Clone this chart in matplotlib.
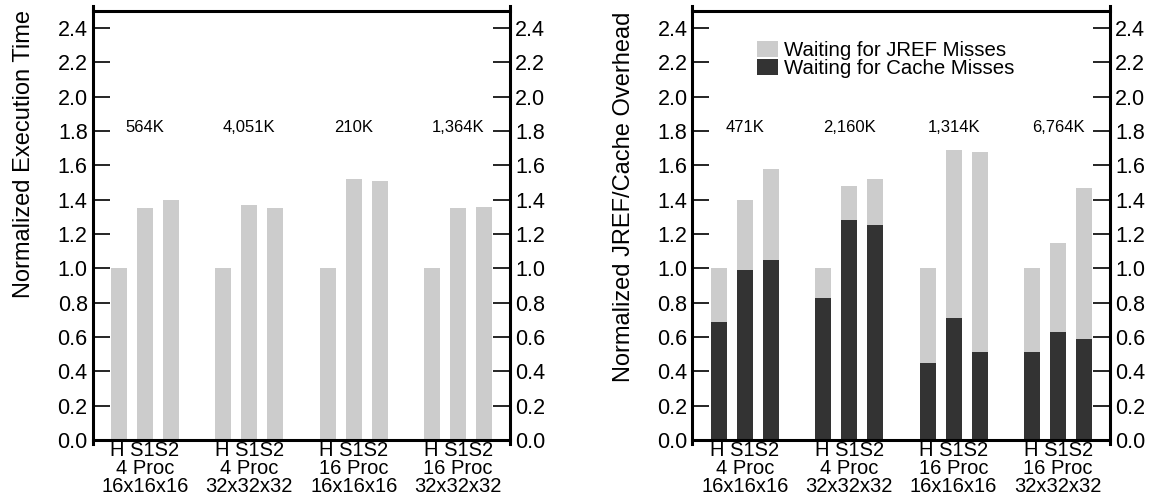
import numpy as np
import matplotlib
matplotlib.use('Agg')
import matplotlib.pyplot as plt

plt.rcParams['font.family'] = ['Liberation Sans', 'DejaVu Sans']

LIGHT = '#cccccc'
DARK = '#333333'

# categories
schemes = ['H', 'S1', 'S2']
configs = ['4 Proc\n16x16x16', '4 Proc\n32x32x32', '16 Proc\n16x16x16', '16 Proc\n32x32x32']

# left panel: normalized execution time (H = 1.0)
exec_h = [1.00, 1.00, 1.00, 1.00]
exec_s1 = [1.35, 1.37, 1.52, 1.35]
exec_s2 = [1.40, 1.35, 1.51, 1.36]
exec_counts = ['564K', '4,051K', '210K', '1,364K']

# right panel: normalized JREF/cache overhead, split in two parts
cache_h = [0.69, 0.83, 0.45, 0.51]
cache_s1 = [0.99, 1.28, 0.71, 0.63]
cache_s2 = [1.05, 1.25, 0.51, 0.59]
total_h = [1.00, 1.00, 1.00, 1.00]
total_s1 = [1.40, 1.48, 1.69, 1.15]
total_s2 = [1.58, 1.52, 1.68, 1.47]
overhead_counts = ['471K', '2,160K', '1,314K', '6,764K']

legend_labels = ['Waiting for JREF Misses', 'Waiting for Cache Misses']

n_groups = len(configs)
group_x = np.arange(n_groups) * 4
bar_w = 0.61
yticks = np.arange(0, 2.41, 0.2)


def style_axes(ax):
    ax.set_xlim(-1, 15)
    ax.set_ylim(0, 2.5)
    for s in ax.spines.values():
        s.set_linewidth(2.2)
    ax.spines['left'].set_bounds(-0.025, 2.53)
    ax.spines['right'].set_bounds(-0.025, 2.53)
    ax.set_yticks(yticks)
    ax.set_yticklabels(['%.1f' % v for v in yticks])
    ax.tick_params(axis='y', which='both', direction='in', length=12.5, width=1.2,
                   left=True, right=True, labelleft=True, labelright=True,
                   labelsize=15.5, pad=3.5)
    ax.set_xticks(group_x + 1)
    ax.set_xticklabels([schemes[0] + ' ' + ''.join(schemes[1:]) + '\n' + c
                        for c in configs], fontsize=14.5, linespacing=0.92)
    ax.tick_params(axis='x', length=0, pad=1)


fig = plt.figure(figsize=(11.52, 4.97), dpi=100)
ax1 = fig.add_axes([0.0803, 0.1147, 0.3628, 0.8632])
ax2 = fig.add_axes([0.6011, 0.1147, 0.3628, 0.8632])

# left panel
for i, vals in enumerate([exec_h, exec_s1, exec_s2]):
    ax1.bar(group_x + i, vals, bar_w, color=LIGHT, linewidth=0)
for gx, lab in zip(group_x, exec_counts):
    ax1.text(gx + 1, 1.82, lab, ha='center', va='center', fontsize=12)
style_axes(ax1)

# right panel
cache_sets = [cache_h, cache_s1, cache_s2]
total_sets = [total_h, total_s1, total_s2]
for i in range(3):
    cache = np.array(cache_sets[i])
    jref = np.array(total_sets[i]) - cache
    ax2.bar(group_x + i, cache, bar_w, color=DARK, linewidth=0,
            label=legend_labels[1] if i == 0 else None)
    ax2.bar(group_x + i, jref, bar_w, bottom=cache, color=LIGHT, linewidth=0,
            label=legend_labels[0] if i == 0 else None)
for gx, lab in zip(group_x, overhead_counts):
    ax2.text(gx + 1, 1.82, lab, ha='center', va='center', fontsize=12)
style_axes(ax2)

handles, labels = ax2.get_legend_handles_labels()
ax2.legend(handles[::-1], labels[::-1], loc='upper left', bbox_to_anchor=(0.155, 0.93),
           frameon=False, fontsize=14.7, handlelength=1.0, handleheight=0.8,
           handletextpad=0.3, labelspacing=-0.05, borderpad=0, borderaxespad=0)

fig.text(0.021, 0.98, 'Normalized Execution Time', rotation=90, ha='center', va='top',
         fontsize=17)
fig.text(0.5417, 0.976, 'Normalized JREF/Cache Overhead', rotation=90, ha='center',
         va='top', fontsize=17)

fig.savefig('out.png', dpi=100)
